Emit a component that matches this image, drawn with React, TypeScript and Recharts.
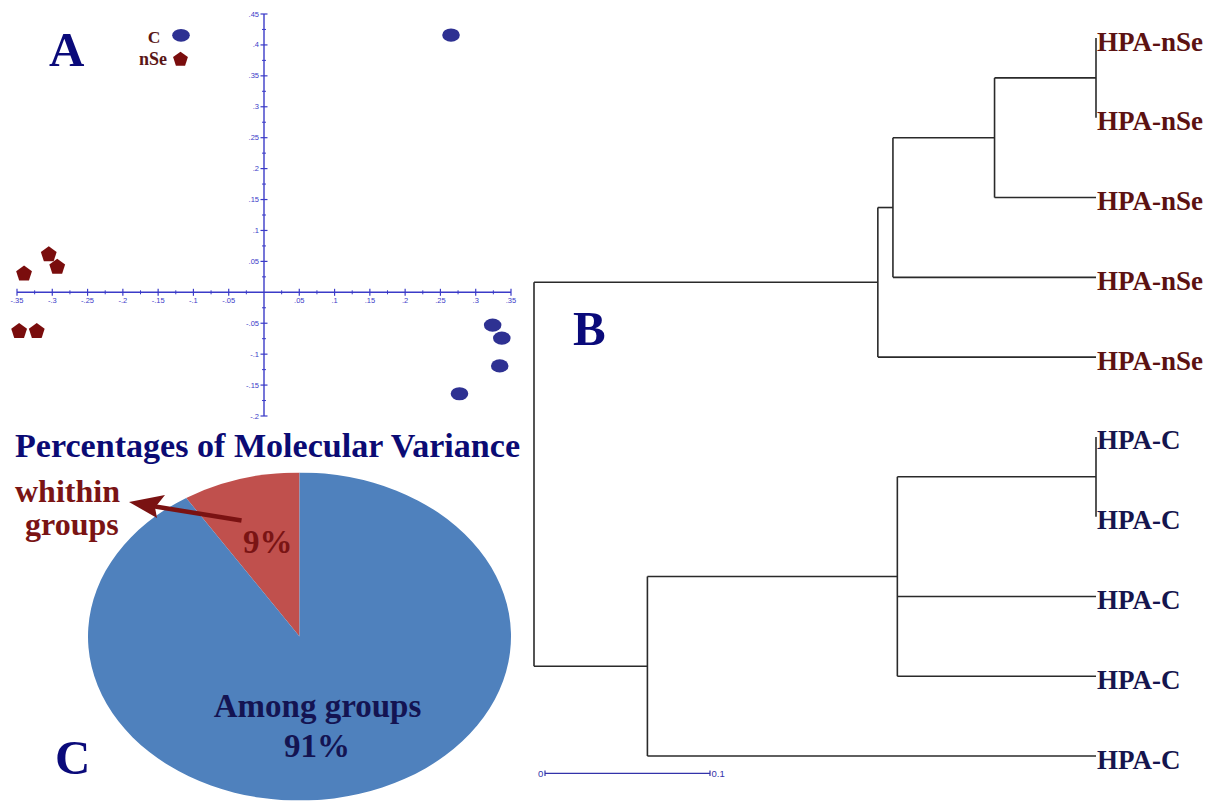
import React from "react";
import { ScatterChart, Scatter, XAxis, YAxis, ReferenceLine, PieChart, Pie, Cell } from "recharts";

const SERIF = '"Liberation Serif", "Times New Roman", serif';
const SANS = '"Liberation Sans", Arial, sans-serif';

// ---------- Panel A : PCoA scatter ----------
const groupNames = ["C", "nSe"];
const cX = [0.265, 0.324, 0.337, 0.334, 0.277];
const cY = [0.416, -0.053, -0.074, -0.119, -0.164];
const nseX = [-0.305, -0.293, -0.34, -0.347, -0.322];
const nseY = [0.061, 0.041, 0.03, -0.063, -0.063];

const xTickValues = [-0.35, -0.3, -0.25, -0.2, -0.15, -0.1, -0.05, 0.05, 0.1, 0.15, 0.2, 0.25, 0.3, 0.35];
const xTickLabels = ["-.35", "-.3", "-.25", "-.2", "-.15", "-.1", "-.05", ".05", ".1", ".15", ".2", ".25", ".3", ".35"];
const xMinorTicks = [-0.325, -0.275, -0.225, -0.175, -0.125, -0.075, -0.025, 0.025, 0.075, 0.125, 0.175, 0.225, 0.275, 0.325];
const yTickValues = [0.45, 0.4, 0.35, 0.3, 0.25, 0.2, 0.15, 0.1, 0.05, -0.05, -0.1, -0.15, -0.2];
const yTickLabels = [".45", ".4", ".35", ".3", ".25", ".2", ".15", ".1", ".05", "-.05", "-.1", "-.15", "-.2"];
const yMinorTicks = [0.425, 0.375, 0.325, 0.275, 0.225, 0.175, 0.125, 0.075, 0.025, -0.025, -0.075, -0.125, -0.175];

const cData = cX.map((x, i) => ({ x, y: cY[i] }));
const nseData = nseX.map((x, i) => ({ x, y: nseY[i] }));
const xTickData = xTickValues.map((x, i) => ({ x, y: 0, label: xTickLabels[i] }));
const xMinorData = xMinorTicks.map((x) => ({ x, y: 0 }));
const yTickData = yTickValues.map((y, i) => ({ x: 0, y, label: yTickLabels[i] }));
const yMinorData = yMinorTicks.map((y) => ({ x: 0, y }));

// ---------- Panel B : dendrogram ----------
const leafLabels = ["HPA-nSe", "HPA-nSe", "HPA-nSe", "HPA-nSe", "HPA-nSe", "HPA-C", "HPA-C", "HPA-C", "HPA-C", "HPA-C"];
const leafGroups = ["nSe", "nSe", "nSe", "nSe", "nSe", "C", "C", "C", "C", "C"];
const leafDepth = 0.3573;
const nodeNames = ["n4", "n3", "n2", "n1", "n7", "n6", "n5", "root"];
const nodeChildren = [
  ["L0", "L1"],
  ["n4", "L2"],
  ["n3", "L3"],
  ["n2", "L4"],
  ["L5", "L6"],
  ["n7", "L7", "L8"],
  ["n6", "L9"],
  ["n1", "n5"],
];
const nodeDepths = [0.3573, 0.2928, 0.2282, 0.2186, 0.3573, 0.231, 0.0721, 0];
const scaleBarLength = 0.1;

// ---------- Panel C : AMOVA pie ----------
const amovaNames = ["whithin groups", "Among groups"];
const amovaValues = [9, 91];
const amovaColors = ["#c0504d", "#4f81bd"];

const AXIS_BLUE = "#3b3bc8";
const C_COLOR = "#2e3192";
const NSE_COLOR = "#7a0d0d";

function pentagon(cx: number, cy: number, r: number) {
  const pts: string[] = [];
  for (let k = 0; k < 5; k++) {
    const a = ((-90 + k * 72) * Math.PI) / 180;
    pts.push(`${cx + r * Math.cos(a)},${cy + r * Math.sin(a)}`);
  }
  return pts.join(" ");
}

function buildTree() {
  const pos: Record<string, { x: number; y: number }> = {};
  leafLabels.forEach((_, i) => {
    pos["L" + i] = { x: leafDepth, y: i };
  });
  const segs: { x1: number; y1: number; x2: number; y2: number }[] = [];
  nodeNames.forEach((name, i) => {
    const kids = nodeChildren[i].map((k) => pos[k]);
    const ys = kids.map((k) => k.y);
    const lo = Math.min(...ys);
    const hi = Math.max(...ys);
    const d = nodeDepths[i];
    pos[name] = { x: d, y: (lo + hi) / 2 };
    segs.push({ x1: d, y1: lo, x2: d, y2: hi });
    kids.forEach((k) => {
      if (k.x !== d) segs.push({ x1: d, y1: k.y, x2: k.x, y2: k.y });
    });
  });
  return segs;
}
const treeSegments = buildTree();
const leafData = leafLabels.map((label, i) => ({ x: leafDepth, y: i, label, group: leafGroups[i] }));

export default function App() {
  return (
    <div style={{ position: "absolute", left: 0, top: 0, width: 1223, height: 801, background: "#fff", overflow: "hidden" }}>
      {/* Panel A */}
      <div style={{ position: "absolute", left: 7, top: 4 }}>
        <ScatterChart width={514} height={422} margin={{ top: 10, right: 10, bottom: 10, left: 10 }}>
          <XAxis type="number" dataKey="x" domain={[-0.35, 0.35]} hide />
          <YAxis type="number" dataKey="y" domain={[-0.2, 0.45]} hide />
          <ReferenceLine y={0} stroke={AXIS_BLUE} strokeWidth={1.4} />
          <ReferenceLine x={0} stroke={AXIS_BLUE} strokeWidth={1.4} />
          <Scatter
            data={xMinorData}
            isAnimationActive={false}
            shape={(p: any) => <line x1={p.cx} x2={p.cx} y1={p.cy - 2} y2={p.cy + 2} stroke={AXIS_BLUE} strokeWidth={1} />}
          />
          <Scatter
            data={yMinorData}
            isAnimationActive={false}
            shape={(p: any) => <line x1={p.cx - 2} x2={p.cx + 2} y1={p.cy} y2={p.cy} stroke={AXIS_BLUE} strokeWidth={1} />}
          />
          <Scatter
            data={xTickData}
            isAnimationActive={false}
            shape={(p: any) => (
              <g>
                <line x1={p.cx} x2={p.cx} y1={p.cy - 3.5} y2={p.cy + 3.5} stroke={AXIS_BLUE} strokeWidth={1.2} />
                <text x={p.cx} y={p.cy + 11} textAnchor="middle" fontSize={7.5} fontFamily={SANS} fill={AXIS_BLUE}>
                  {p.payload.label}
                </text>
              </g>
            )}
          />
          <Scatter
            data={yTickData}
            isAnimationActive={false}
            shape={(p: any) => (
              <g>
                <line x1={p.cx - 3.5} x2={p.cx + 3.5} y1={p.cy} y2={p.cy} stroke={AXIS_BLUE} strokeWidth={1.2} />
                <text x={p.cx - 5} y={p.cy + 2.5} textAnchor="end" fontSize={7.5} fontFamily={SANS} fill={AXIS_BLUE}>
                  {p.payload.label}
                </text>
              </g>
            )}
          />
          <Scatter
            name={groupNames[0]}
            data={cData}
            isAnimationActive={false}
            shape={(p: any) => <ellipse cx={p.cx} cy={p.cy} rx={8.8} ry={6.6} fill={C_COLOR} />}
          />
          <Scatter
            name={groupNames[1]}
            data={nseData}
            isAnimationActive={false}
            shape={(p: any) => <polygon points={pentagon(p.cx, p.cy, 8.3)} fill={NSE_COLOR} />}
          />
        </ScatterChart>
      </div>

      {/* Panel B */}
      <div style={{ position: "absolute", left: 524, top: 28 }}>
        <ScatterChart width={702} height={758} margin={{ top: 10, right: 130, bottom: 30, left: 10 }}>
          <XAxis type="number" dataKey="x" domain={[0, leafDepth]} hide />
          <YAxis type="number" dataKey="y" domain={[0, leafLabels.length - 1]} reversed hide />
          {treeSegments.map((s, i) => (
            <ReferenceLine
              key={i}
              segment={[
                { x: s.x1, y: s.y1 },
                { x: s.x2, y: s.y2 },
              ]}
              stroke="#2a2a2a"
              strokeWidth={1.6}
            />
          ))}
          <Scatter
            data={leafData}
            isAnimationActive={false}
            shape={(p: any) => (
              <text
                x={p.cx + 1}
                y={p.cy + 12.5}
                fontSize={27}
                fontWeight="bold"
                fontFamily={SERIF}
                fill={p.payload.group === "nSe" ? "#5c1212" : "#15154e"}
              >
                {p.payload.label}
              </text>
            )}
          />
        </ScatterChart>
      </div>

      {/* Panel C */}
      <div
        style={{
          position: "absolute",
          left: 88,
          top: 424.5,
          width: 423,
          height: 423,
          transform: "scaleY(0.776)",
          transformOrigin: "50% 50%",
        }}
      >
        <PieChart width={423} height={423} margin={{ top: 0, right: 0, bottom: 0, left: 0 }}>
          <Pie
            data={amovaNames.map((name, i) => ({ name, value: amovaValues[i] }))}
            dataKey="value"
            cx="50%"
            cy="50%"
            outerRadius={211.5}
            startAngle={90}
            endAngle={450}
            stroke="none"
            isAnimationActive={false}
          >
            {amovaValues.map((_, i) => (
              <Cell key={i} fill={amovaColors[i]} />
            ))}
          </Pie>
        </PieChart>
      </div>

      {/* Overlay texts */}
      <svg width={1223} height={801} style={{ position: "absolute", left: 0, top: 0, pointerEvents: "none" }}>
        <g fontFamily={SERIF} fontWeight="bold">
          <text x={49} y={65.5} fontSize={49} fill="#0a0a7a">A</text>
          <text x={573} y={345} fontSize={49} fill="#0a0a7a">B</text>
          <text x={55} y={774} fontSize={49} fill="#0a0a7a">C</text>

          {/* legend A */}
          <text x={160.5} y={42.5} fontSize={17.5} textAnchor="end" fill="#5a1616">{groupNames[0]}</text>
          <ellipse cx={181} cy={35.3} rx={8.8} ry={6.4} fill={C_COLOR} />
          <text x={167} y={64.5} fontSize={18} textAnchor="end" fill="#5a1616">{groupNames[1]}</text>
          <polygon points={pentagon(180.5, 59.5, 7.8)} fill={NSE_COLOR} />

          {/* title */}
          <text x={15} y={457.3} fontSize={34.1} fill="#0b0b74">Percentages of Molecular Variance</text>

          {/* pie labels */}
          <text x={15} y={501.7} fontSize={32} fill="#7a1414">whithin</text>
          <text x={25} y={535} fontSize={32} fill="#7a1414">groups</text>
          <text x={243} y={553.3} fontSize={33} fill="#7a1414">{amovaValues[0]}%</text>
          <text x={317.5} y={716.7} fontSize={33} textAnchor="middle" fill="#141452">{amovaNames[1]}</text>
          <text x={317} y={756.7} fontSize={33} textAnchor="middle" fill="#141452">{amovaValues[1]}%</text>
        </g>
        {/* arrow */}
        <line x1={241.5} y1={520.5} x2={152} y2={506} stroke="#7a1212" strokeWidth={4.5} />
        <polygon points="129,502 165,495 155,507.5 157,518" fill="#7a1212" />

        {/* scale bar */}
        <g fontFamily={SANS} fontSize={9.5} fill="#3333aa">
          <text x={538} y={776.5}>0</text>
          <line x1={545} x2={710} y1={773.3} y2={773.3} stroke="#3333aa" strokeWidth={1.3} />
          <line x1={545} x2={545} y1={770.5} y2={776} stroke="#3333aa" strokeWidth={1.2} />
          <line x1={710} x2={710} y1={770.5} y2={776} stroke="#3333aa" strokeWidth={1.2} />
          <text x={711.5} y={776.5}>{scaleBarLength}</text>
        </g>
      </svg>
    </div>
  );
}
